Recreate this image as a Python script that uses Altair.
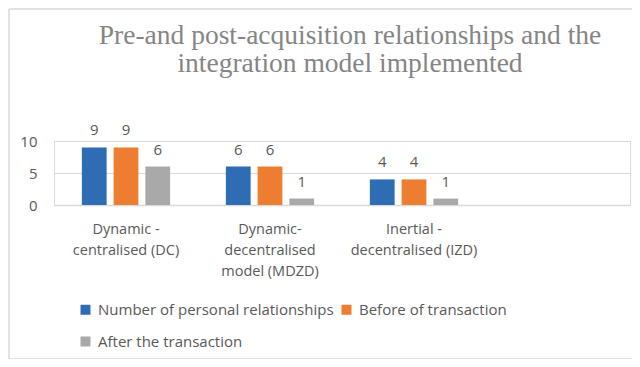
import altair as alt
import pandas as pd

categories = ["Dynamic -\ncentralised (DC)", "Dynamic-\ndecentralised\nmodel (MDZD)", "Inertial -\ndecentralised (IZD)"]
empty_slot = [" "]
series = ["Number of personal relationships", "Before of transaction", "After the transaction"]
personal = [9, 6, 4]
before = [9, 6, 4]
after = [6, 1, 1]
colors = ["#2E6DB4", "#ED7D31", "#A9A9A9"]
title_text = "Pre-and post-acquisition relationships and the\nintegration model implemented"
y_ticks = [0, 5, 10]

rows = []
for i, c in enumerate(categories):
    for s, vals in zip(series, [personal, before, after]):
        rows.append({"category": c, "series": s, "value": vals[i]})
df = pd.DataFrame(rows)

FONT = "Open Sans"
GRAY = "#595959"
BORDER = "#d9d9d9"

x_enc = alt.X(
    "category:N",
    sort=None,
    scale=alt.Scale(domain=categories + empty_slot, paddingInner=0.387, paddingOuter=0.1935),
    axis=alt.Axis(
        title=None,
        labelExpr="split(datum.label, '\\n')",
        labelAngle=0,
        labelFont=FONT,
        labelFontSize=14.5,
        labelColor=GRAY,
        labelPadding=17,
        labelLineHeight=21,
        labelBaseline="top",
        ticks=False,
        domainColor=BORDER,
        domainWidth=1.5,
        grid=False,
    ),
)
xoff_enc = alt.XOffset("series:N", sort=series, scale=alt.Scale(domain=series, paddingInner=0.22, paddingOuter=0))
y_enc = alt.Y(
    "value:Q",
    scale=alt.Scale(domain=[0, 10], nice=False),
    axis=alt.Axis(
        title=None,
        values=y_ticks,
        labelFont=FONT,
        labelFontSize=15,
        labelColor=GRAY,
        labelPadding=17,
        ticks=False,
        tickSize=0,
        domain=False,
        gridColor=BORDER,
        gridWidth=1,
    ),
)

bars = alt.Chart(df).mark_bar().encode(
    x=x_enc,
    xOffset=xoff_enc,
    y=y_enc,
    color=alt.Color(
        "series:N",
        sort=series,
        scale=alt.Scale(domain=series, range=colors),
        legend=alt.Legend(
            title=None,
            orient="none",
            direction="horizontal",
            legendX=24,
            legendY=161,
            columns=2,
            columnPadding=5,
            rowPadding=16,
            symbolType="square",
            symbolSize=100,
            symbolStrokeWidth=0,
            labelFont=FONT,
            labelFontSize=15,
            labelColor=GRAY,
            labelOffset=5,
            labelLimit=400,
        ),
    ),
)

labels = alt.Chart(df).mark_text(
    font=FONT, fontSize=15, color=GRAY, baseline="alphabetic", dy=-12
).encode(x=x_enc, xOffset=xoff_enc, y=y_enc, text="value:Q")

one = pd.DataFrame({"a": [0]})
left_edge = alt.Chart(one).mark_rule(stroke=BORDER, strokeWidth=1.5).encode(
    x=alt.value(-45), y=alt.value(-132), y2=alt.value(218)
)
top_edge = alt.Chart(one).mark_rule(stroke=BORDER, strokeWidth=1.5).encode(
    x=alt.value(-45), x2=alt.value(590), y=alt.value(-132)
)
bottom_edge = alt.Chart(one).mark_rule(stroke=BORDER, strokeWidth=1.5).encode(
    x=alt.value(-45), x2=alt.value(590), y=alt.value(218)
)

title = alt.Chart(pd.DataFrame({"t": [title_text]})).mark_text(
    font="Liberation Serif",
    fontSize=27.5,
    color="#858585",
    lineBreak="\n",
    lineHeight=28,
    align="center",
    baseline="alphabetic",
).encode(x=alt.value(296), y=alt.value(-97), text="t:N")

chart = alt.layer(left_edge, top_edge, bottom_edge, bars, labels, title).properties(
    width=576,
    height=64,
    autosize=alt.AutoSizeParams(type="none"),
    padding={"left": 46, "top": 133, "right": 2, "bottom": 154},
).configure_view(stroke=None).configure(background="white")

chart.save("out.html", embed_options={"renderer": "svg", "actions": False})
